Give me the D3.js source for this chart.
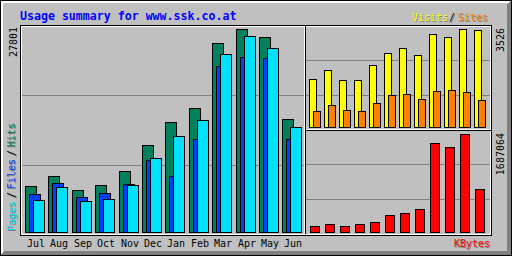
<!DOCTYPE html>
<html>
<head>
<meta charset="utf-8">
<script src="https://cdn.jsdelivr.net/npm/d3@7"></script>
<style>
body{margin:0;background:#fff}
svg{display:block}
text{font-family:"DejaVu Sans Mono",monospace;font-size:10px}
</style>
</head>
<body>
<svg id="chart" width="512" height="256"></svg>
<script>
var months = ["Jul","Aug","Sep","Oct","Nov","Dec","Jan","Feb","Mar","Apr","May","Jun"]
var hits   = [6259,7628,5711,6396,8313,11874,15024,16941,25843,27801,26665,15435]
var files  = [5163,6670,4752,5300,6533,9861,7669,12737,22734,23967,23830,12737]
var pages  = [4341,6122,4204,4478,6450,10134,13106,15339,24336,26801,25158,14339]
var visits = [1716,2040,1680,1680,2220,2652,2832,2580,3335,3227,3526,3479]
var sites  = [565,781,612,565,853,1140,1176,997,1284,1320,1248,961]
var kbytes = [98100,132500,98100,132500,167000,287500,322000,391000,1527000,1458000,1687064,735000]

var svg = d3.select("#chart")

// filled pixel block, corners inclusive
function px(x1, y1, x2, y2, c) {
  svg.append("rect").attr("x", x1).attr("y", y1)
     .attr("width", x2 - x1 + 1).attr("height", y2 - y1 + 1)
     .attr("fill", c).attr("shape-rendering", "crispEdges")
}

px(0, 0, 511, 255, "#c0c0c0")
// bevel
for (var i = 1; i < 3; i++) { px(i, i, 511 - i, i, "#fff"); px(i, i, i, 255 - i, "#fff") }
for (var i = 1; i < 5; i++) { px(i, 255 - i, 511 - i, 255 - i, "#808080"); px(511 - i, i, 511 - i, 255 - i, "#808080") }
svg.append("rect").attr("x", 0.5).attr("y", 0.5).attr("width", 511).attr("height", 255)
   .attr("fill", "none").attr("stroke", "#000").attr("shape-rendering", "crispEdges")

// panel frame
svg.append("rect").attr("x", 20.5).attr("y", 25.5).attr("width", 471).attr("height", 210)
   .attr("fill", "none").attr("stroke", "#000").attr("shape-rendering", "crispEdges")
svg.append("rect").attr("x", 21.5).attr("y", 26.5).attr("width", 469).attr("height", 208)
   .attr("fill", "none").attr("stroke", "#fff").attr("shape-rendering", "crispEdges")
px(304, 26, 304, 233, "#fff")
px(305, 26, 305, 233, "#000")
px(306, 129, 490, 129, "#fff")
px(306, 130, 490, 130, "#000")

// index lines
;[1, 2].forEach(function (k) {
  px(22, 25 + k * 70, 303, 25 + k * 70, "#808080")
  px(306, 25 + k * 35, 489, 25 + k * 35, "#808080")
  px(306, 129 + k * 35, 489, 129 + k * 35, "#808080")
})

var xMain = d3.scaleBand().domain(months).range([25, 25 + 12 * 23.4])
var yMain = d3.scaleLinear().domain([0, d3.max(hits)]).range([232, 29])
var xSide = d3.scaleBand().domain(months).range([309, 489])
var yTop  = d3.scaleLinear().domain([0, d3.max(visits)]).range([127, 29])
var yBot  = d3.scaleLinear().domain([0, d3.max(kbytes)]).range([232, 134])

function bars(values, x, off, w, y, base, color) {
  svg.append("g").selectAll("rect")
    .data(values).enter()
    .append("rect")
    .attr("x", (v, i) => Math.round(x(months[i])) + off + 0.5)
    .attr("y", v => Math.round(y(v)) + 0.5)
    .attr("width", w)
    .attr("height", v => base - Math.round(y(v)))
    .attr("fill", color)
    .attr("stroke", "#000")
    .attr("shape-rendering", "crispEdges")
}

bars(hits,  xMain, 0, 11, yMain, 232, "#00805c")
bars(files, xMain, 4, 11, yMain, 232, "#0040ff")
bars(pages, xMain, 8, 11, yMain, 232, "#00e0ff")
bars(visits, xSide, 0, 7, yTop, 127, "#ffff00")
bars(sites,  xSide, 4, 7, yTop, 127, "#ff8000")
bars(kbytes, xSide, 1, 9, yBot, 232, "#ff0000")

// month labels
svg.append("g").selectAll("text")
  .data(months).enter()
  .append("text")
  .attr("x", m => Math.round(xMain(m)) + 2)
  .attr("y", 247)
  .attr("fill", "#000")
  .text(m => m)

// max values
function upText(x, y, str, anchor, color) {
  return svg.append("text").attr("transform", "translate(" + x + "," + y + ") rotate(-90)")
    .attr("text-anchor", anchor).attr("fill", color).text(str)
}
upText(17, 27, d3.max(hits), "end", "#000")
upText(504, 28, d3.max(visits), "end", "#000")
upText(504, 133, d3.max(kbytes), "end", "#000")

// legends with shadow
function shadow(x, y, str, color, up) {
  if (up) { upText(x + 1, y + 1, str, "start", "#808080"); upText(x, y, str, "start", color) }
  else {
    svg.append("text").attr("x", x + 1).attr("y", y + 1).attr("fill", "#808080").text(str)
    svg.append("text").attr("x", x).attr("y", y).attr("fill", color).text(str)
  }
}
shadow(15, 231, "Pages", "#00e0ff", true)
shadow(15, 198, "/", "#000", true)
shadow(15, 189, "Files", "#0040ff", true)
shadow(15, 156, "/", "#000", true)
shadow(15, 147, "Hits", "#00805c", true)

shadow(412, 21, "Visits", "#ffff00", false)
shadow(449, 21, "/", "#000", false)
shadow(458, 21, "Sites", "#ff8000", false)
shadow(454, 247, "KBytes", "#ff0000", false)

svg.append("text").attr("x", 20).attr("y", 20)
   .attr("fill", "#0000ff").style("font-size", "11.6px").style("font-weight", "bold")
   .text("Usage summary for www.ssk.co.at")
</script>
</body>
</html>
